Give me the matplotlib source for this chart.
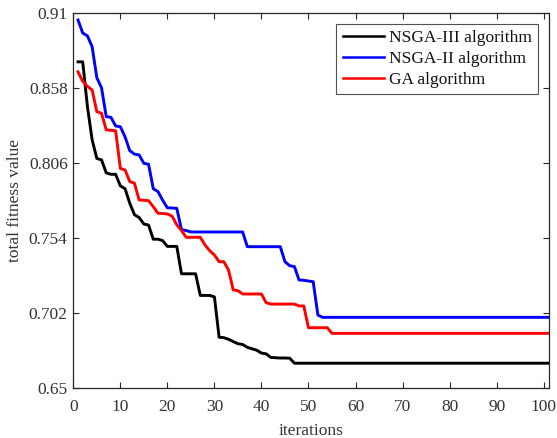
import matplotlib
matplotlib.use("Agg")
import matplotlib.pyplot as plt

# ── Data (iteration, total fitness value) ──────────────────────────────────────
nsga3_iter = [1, 2, 3, 4, 5, 6, 7, 8, 9, 10, 11, 12, 13, 14, 15, 16, 17, 18, 19,
              20, 21, 22, 23, 24, 25, 26, 27, 28, 29, 30, 31, 32, 33, 34, 35, 36,
              37, 38, 39, 40, 41, 42, 43, 44, 45, 46, 47, 101]
nsga3_fit = [0.876, 0.876, 0.845, 0.822, 0.809, 0.808, 0.799, 0.798, 0.798,
             0.790, 0.788, 0.778, 0.770, 0.768, 0.7635, 0.7628, 0.753, 0.753,
             0.752, 0.748, 0.748, 0.748, 0.729, 0.729, 0.729, 0.729, 0.714,
             0.714, 0.714, 0.713, 0.685, 0.6847, 0.6836, 0.682, 0.6805, 0.680,
             0.678, 0.677, 0.676, 0.674, 0.6735, 0.671, 0.6708, 0.6706, 0.6706,
             0.6705, 0.667, 0.667]

nsga2_iter = [1, 2, 3, 4, 5, 6, 7, 8, 9, 10, 11, 12, 13, 14, 15, 16, 17, 18, 19,
              20, 21, 22, 23, 24, 25, 36, 37, 44, 45, 46, 47, 48, 49, 50, 51, 52,
              53, 101]
nsga2_fit = [0.905, 0.896, 0.894, 0.8865, 0.865, 0.858, 0.838, 0.8375, 0.8315,
             0.831, 0.824, 0.8144, 0.812, 0.8114, 0.8056, 0.805, 0.788, 0.786,
             0.780, 0.7748, 0.7746, 0.7744, 0.7596, 0.759, 0.758, 0.758, 0.7478,
             0.7478, 0.7374, 0.7346, 0.734, 0.7247, 0.7245, 0.724, 0.7235,
             0.7004, 0.6988, 0.6988]

ga_iter = [1, 2, 3, 4, 5, 6, 7, 8, 9, 10, 11, 12, 13, 14, 15, 16, 17, 18, 19, 20,
           21, 22, 23, 24, 27, 28, 29, 30, 31, 32, 33, 34, 35, 36, 40, 41, 42, 47,
           48, 49, 50, 54, 55, 101]
ga_fit = [0.869, 0.8625, 0.859, 0.8565, 0.8414, 0.8403, 0.8288, 0.8285, 0.8282,
          0.8021, 0.801, 0.793, 0.7918, 0.7802, 0.780, 0.7797, 0.7755, 0.771,
          0.7708, 0.7705, 0.769, 0.763, 0.759, 0.7543, 0.7543, 0.749, 0.745,
          0.742, 0.7374, 0.7374, 0.7316, 0.7178, 0.7173, 0.715, 0.715, 0.709,
          0.708, 0.708, 0.7067, 0.7067, 0.6916, 0.6916, 0.6877, 0.6877]

y_ticks = [0.65, 0.702, 0.754, 0.806, 0.858, 0.91]
y_tick_labels = ["0.65", "0.702", "0.754", "0.806", "0.858", "0.91"]
x_ticks = [0, 10, 20, 30, 40, 50, 60, 70, 80, 90, 100]

# ── Style ──────────────────────────────────────────────────────────────────────
plt.rcParams["font.family"] = ["Liberation Serif", "DejaVu Serif"]
FS = 12.5
plt.rcParams["font.size"] = FS
axis_col = "#262626"
text_col = "#333333"

fig = plt.figure(figsize=(5.57, 4.38), dpi=100)
ax = fig.add_axes([0.1316, 0.1148, 0.8546, 0.856])

ax.plot(nsga3_iter, nsga3_fit, color="black", lw=2.1, label="NSGA-III algorithm")
ax.plot(nsga2_iter, nsga2_fit, color="blue", lw=2.1, label="NSGA-II algorithm")
ax.plot(ga_iter, ga_fit, color="red", lw=2.1, label="GA algorithm")

ax.set_xlim(0, 101.2)
ax.set_ylim(0.65, 0.91)
ax.set_xticks(x_ticks)
ax.set_yticks(y_ticks)
ax.set_yticklabels(y_tick_labels)
ax.tick_params(direction="in", top=True, right=True, length=4, width=0.8,
               color=axis_col, labelcolor=text_col, labelsize=FS, pad=4)
ax.tick_params(axis="x", pad=8)
for sp in ax.spines.values():
    sp.set_color(axis_col)
    sp.set_linewidth(0.9)

ax.set_xlabel("iterations", color=text_col, fontsize=FS, labelpad=6)
ax.set_ylabel("total fitness value", color=text_col, fontsize=FS, labelpad=4)

leg = ax.legend(loc="upper right", fontsize=FS, frameon=True, fancybox=False,
                handlelength=2.4, handletextpad=0.3, borderpad=0.35,
                labelspacing=0.28, borderaxespad=0.63)
leg.get_frame().set_edgecolor(axis_col)
leg.get_frame().set_linewidth(0.8)
for line in leg.get_lines():
    line.set_linewidth(1.8)
for t in leg.get_texts():
    t.set_color("#111111")

plt.savefig("out.png", dpi=100)
plt.close()
